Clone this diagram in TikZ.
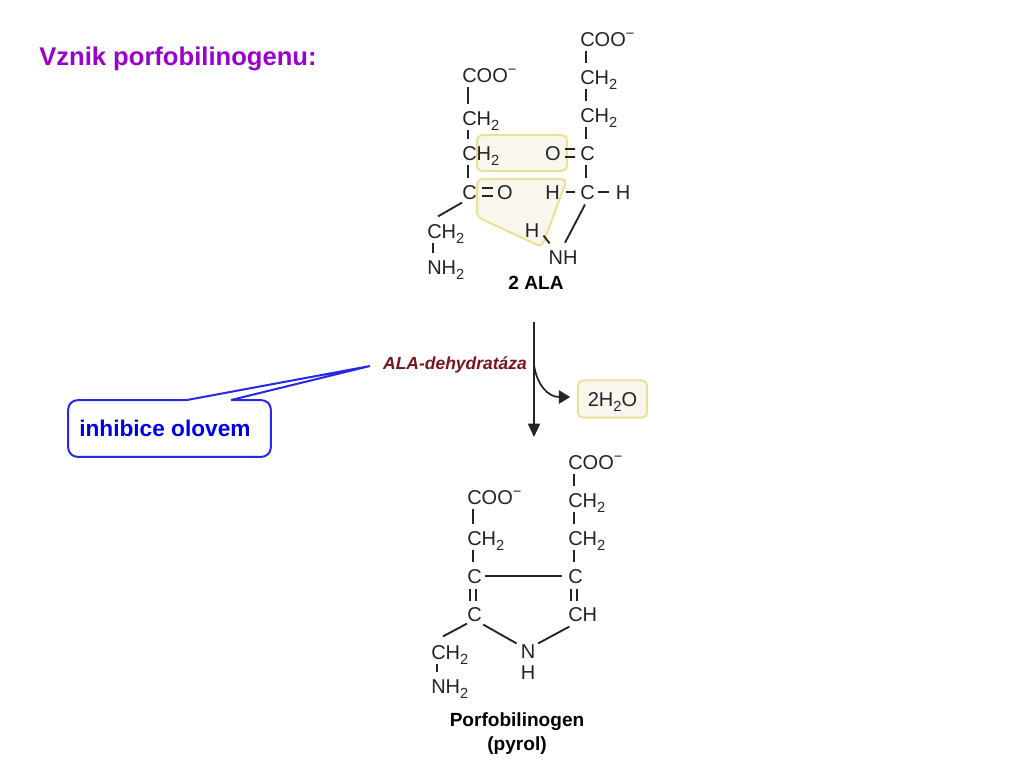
\documentclass[tikz,border=0pt]{standalone}
\usepackage{fontspec}
\setmainfont{Liberation Sans}
\usetikzlibrary{arrows.meta}
\definecolor{titlepurple}{RGB}{153,0,204}
\definecolor{calloutblue}{RGB}{40,40,235}
\definecolor{inhibblue}{RGB}{0,0,230}
\definecolor{enzymered}{RGB}{120,20,30}
\definecolor{boxline}{RGB}{236,224,150}
\definecolor{boxfill}{RGB}{249,246,238}
\definecolor{inkgray}{RGB}{35,35,40}
\newcommand{\subtwo}{\raisebox{-4pt}{\fontsize{11}{12}\selectfont 2}}
\newcommand{\chminus}{\raisebox{6pt}{\fontsize{11}{12}\selectfont\textminus}}
\tikzset{
	atom/.style={font=\fontsize{15}{17}\selectfont, text=inkgray, inner sep=0pt, anchor=west, text height=11pt, text depth=0pt},
	letter/.style={atom, anchor=center},
	bond/.style={draw=inkgray, line width=1.4pt, shorten >=5pt, shorten <=3pt},
	bondshort/.style={draw=inkgray, line width=1.4pt},
	bonddouble/.style={bond, shorten >=3.75pt, shorten <=3.75pt},
	caption/.style={font=\fontsize{14.3}{16}\selectfont\bfseries, text=black, inner sep=0pt},
	yellowbox/.style={draw=boxline, fill=boxfill, line width=1.5pt, rounded corners=4pt}
}
\begin{document}
\begin{tikzpicture}[x=0.75pt,y=-0.75pt]
	\useasboundingbox (0,0) rectangle (1024,768);
	
	% Draw the title
	\node[font=\fontsize{19.2}{22}\selectfont\bfseries, text=titlepurple, inner sep=0pt, anchor=west] (title) at (39,59) {Vznik porfobilinogenu:};
	
	% Draw the yellow highlights
	\draw[yellowbox] (477,135) rectangle (567,171);
	\draw[yellowbox] (477,179) -- (567,179) -- (542,247) -- (477,217) -- cycle;
	
	% Draw the left half of 2 ALA
	\node[atom] (acoo) at (462,75) {COO\chminus};
	\node[atom] (ach) at (462,118) {CH\subtwo};
	\node[atom] (achb) at (462,153) {CH\subtwo};
	\node[atom] (acc) at (462,192) {C};
	\node[letter] (aco) at (505,192) {O};
	\node[atom] (achc) at (427,231) {CH\subtwo};
	\node[atom] (anh) at (427,267) {NH\subtwo};
	
	% Draw the right half of 2 ALA
	\node[atom] (bcoo) at (580,39) {COO\chminus};
	\node[atom] (bch) at (580,77) {CH\subtwo};
	\node[atom] (bchb) at (580,115) {CH\subtwo};
	\node[atom] (bcc) at (580,153) {C};
	\node[letter] (bco) at (553,153) {O};
	\node[atom] (bcd) at (580,192) {C};
	\node[letter] (bhl) at (552.5,192) {H};
	\node[letter] (bhr) at (623,192) {H};
	\node[letter] (bhn) at (532,230) {H};
	\node[letter] (bnh) at (563,257) {NH};
	
	% Draw the vertical bonds of the chains
	\foreach \a/\b in {acoo/ach,ach/achb,achb/acc,achc/anh,bcoo/bch,bch/bchb,bchb/bcc,bcc/bcd} {
		\draw[bond] ([xshift=4.5pt]\a.south west) -- ([xshift=4.5pt]\b.north west);
	}
	
	% Draw the other bonds of 2 ALA
	\draw[bondshort] ([yshift=-2.25pt]acc.south west) -- ([xshift=8.25pt,yshift=5.25pt]achc.north west);
	\foreach \s in {-2.7pt,2.7pt} {
		\draw[bondshort] ([xshift=3.75pt,yshift=\s]acc.east) -- ([xshift=-3pt,yshift=\s]aco.west);
		\draw[bondshort] ([xshift=3pt,yshift=\s]bco.east) -- ([xshift=-4pt,yshift=\s]bcc.west);
	}
	\draw[bondshort] ([xshift=4.5pt]bhl.east) -- ([xshift=-3.75pt]bcd.west);
	\draw[bondshort] ([xshift=2pt]bcd.east) -- ([xshift=-5pt]bhr.west);
	\draw[bondshort] ([xshift=3pt,yshift=1.5pt]bhn.south east) -- ([xshift=1pt,yshift=4.5pt]bnh.north west);
	\draw[bondshort] ([xshift=3.75pt,yshift=-3.75pt]bcd.south west) -- ([xshift=1.5pt,yshift=5pt]bnh.north);
	
	% Draw the label of 2 ALA
	\node[caption] (alalabel) at (536,283) {2 ALA};
	
	% Draw the reaction arrow
	\coordinate (arrowtop) at (534,322);
	\coordinate (arrowend) at (534,437);
	\coordinate (arrowfork) at (534,365);
	\draw[-{Triangle[length=10pt,width=9pt]}, draw=inkgray, line width=1.3pt] (arrowtop) -- (arrowend);
	
	% Draw the enzyme and the water box
	\node[font=\fontsize{13.1}{15}\selectfont\bfseries\itshape, text=enzymered, inner sep=0pt] (enzyme) at (455,365) {ALA-dehydratáza};
	\node[atom, anchor=center, yellowbox, minimum width=52pt, minimum height=28pt] (water) at (612.5,399) {2H\subtwo O};
	\draw[-{Triangle[length=8.5pt,width=10pt]}, draw=inkgray, line width=1.3pt, shorten >=5pt] (arrowfork) .. controls (537,385) and (548,397) .. ([yshift=1.5pt]water.west);
	
	% Draw the callout
	\node[draw=calloutblue, fill=white, line width=1.5pt, rounded corners=7pt, minimum width=152pt, minimum height=42.5pt, inner sep=0pt] (inhibice) at (169.5,428.5) {};
	\node[font=\fontsize{17}{19}\selectfont\bfseries, text=inhibblue, inner sep=0pt, anchor=west] (inhibtext) at (79,428) {inhibice olovem};
	\coordinate (calltip) at (370,366);
	\coordinate (callleft) at (187,400);
	\coordinate (callright) at (231,400);
	\fill[white] (callleft) -- (calltip) -- (callright) -- ([yshift=-1.5pt]callright) -- ([yshift=-1.5pt]callleft) -- cycle;
	\draw[draw=calloutblue, line width=1.5pt, line join=miter] (callleft) -- (calltip) -- (callright);
	
	% Draw the porfobilinogen chains
	\node[atom] (pcoo) at (467,497) {COO\chminus};
	\node[atom] (pch) at (467,538) {CH\subtwo};
	\node[atom] (pcc) at (467,576) {C};
	\node[atom] (pcd) at (467,614) {C};
	\node[atom] (pche) at (431,652) {CH\subtwo};
	\node[atom] (pnh) at (431,686) {NH\subtwo};
	\node[atom] (qcoo) at (568,462) {COO\chminus};
	\node[atom] (qch) at (568,500) {CH\subtwo};
	\node[atom] (qchb) at (568,538) {CH\subtwo};
	\node[atom] (qcc) at (568,576) {C};
	\node[atom] (qcd) at (568,614) {CH};
	\node[letter] (pn) at (528,651) {N};
	\node[letter] (ph) at (528,672) {H};
	
	% Draw the bonds of porfobilinogen
	\foreach \a/\b in {pcoo/pch,pch/pcc,pche/pnh,qcoo/qch,qch/qchb,qchb/qcc} {
		\draw[bond] ([xshift=4.5pt]\a.south west) -- ([xshift=4.5pt]\b.north west);
	}
	\foreach \s in {2pt,7pt} {
		\draw[bonddouble] ([xshift=\s]pcc.south west) -- ([xshift=\s]pcd.north west);
		\draw[bonddouble] ([xshift=\s]qcc.south west) -- ([xshift=\s]qcd.north west);
	}
	\draw[bondshort] ([xshift=2pt]pcc.east) -- ([xshift=-4.5pt]qcc.west);
	\draw[bondshort] ([yshift=-1.5pt]pcd.south west) -- ([xshift=9pt,yshift=6pt]pche.north west);
	\draw[bondshort] ([xshift=1pt,yshift=-2.25pt]pcd.south east) -- ([xshift=-3pt]pn.north west);
	\draw[bondshort] ([xshift=2pt]pn.north east) -- ([xshift=1pt,yshift=-3.75pt]qcd.south west);
	
	% Draw the labels of porfobilinogen
	\node[caption] (plabel) at (517,722) {Porfobilinogen};
	\node[caption] (plabelb) at (517,746) {(pyrol)};
	
\end{tikzpicture}
\end{document}
